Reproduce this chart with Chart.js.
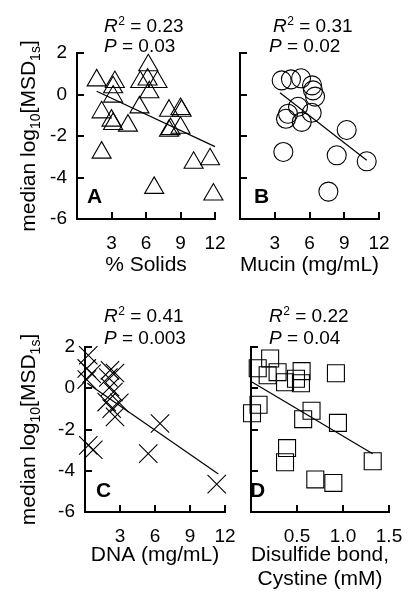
<!DOCTYPE html>
<html>
<head>
<meta charset="utf-8">
<script src="https://cdn.jsdelivr.net/npm/chart.js@4.4.0/dist/chart.umd.min.js"></script>
<style>
html, body { margin: 0; padding: 0; background: #fff; }
#wrap { position: relative; width: 419px; height: 594px; }
#wrap canvas { position: absolute; left: 0; top: 0; }
</style>
</head>
<body>
<div id="wrap">
    <canvas id="cA" width="419" height="594"></canvas>
    <canvas id="cB" width="419" height="594"></canvas>
    <canvas id="cC" width="419" height="594"></canvas>
    <canvas id="cD" width="419" height="594"></canvas>
</div>
<script>
// ---- dados ----
const solidsX = [1.71, 3.29, 3.14, 3.14, 2.14, 3.0, 3.14, 4.43, 2.14, 5.43, 6.2, 5.5, 6.14, 7.0, 6.29, 8.0, 9.0, 9.1, 8.14, 8.0, 9.0, 10.14, 11.57, 6.71, 11.86];
const solidsY = [0.68, 0.60, 0.35, -0.10, -0.86, -1.26, -1.42, -1.50, -2.80, -0.62, 1.41, 0.60, 0.72, 0.60, 0.11, -0.78, -0.70, -0.78, -1.67, -1.75, -1.60, -3.29, -3.12, -4.50, -4.82];
const solidsFitX = [1.71, 12];
const solidsFitY = [0.16, -2.51];

const mucinX = [3.60, 4.40, 5.27, 6.22, 6.30, 6.48, 5.01, 4.15, 6.19, 5.33, 9.21, 3.74, 8.35, 10.94, 7.63, 3.97];
const mucinY = [0.68, 0.73, 0.78, 0.44, 0.20, -0.10, -0.59, -0.93, -0.88, -1.32, -1.71, -2.77, -2.93, -3.22, -4.68, -1.17];
const mucinFitX = [3.45, 10.94];
const mucinFitY = [0.08, -3.17];

const dnaX = [0.28, 0.15, 0.57, 0.15, 0.28, 0.71, 2.14, 2.57, 2.0, 2.14, 2.43, 1.86, 2.94, 2.29, 2.57, 6.43, 5.42, 11.29];
const dnaY = [1.60, 0.96, 0.71, 0.42, -2.77, -2.98, 0.87, 0.74, 0.52, 0.06, -0.18, -0.67, -0.71, -0.99, -1.39, -1.71, -3.17, -4.65];
const dnaFitX = [0.2, 11.43];
const dnaFitY = [0.24, -4.16];

const cystineX = [0.208, 0.073, 0.181, 0.289, 0.37, 0.489, 0.55, 0.543, 0.923, 0.082, 0.011, 0.658, 0.567, 0.945, 0.392, 0.37, 0.699, 0.895, 1.323];
const cystineY = [1.44, 0.97, 0.63, 0.78, 0.29, 0.46, 0.83, 0.24, 0.73, -0.80, -1.21, -1.09, -1.50, -1.68, -2.90, -3.59, -4.42, -4.59, -3.54];
const cystineFitX = [0.01, 1.323];
const cystineFitY = [0.3, -3.18];

const yTicks = [-6, -4, -2, 0, 2];
const yTickLabels = ['-6', '-4', '-2', '0', '2'];
const mgTicks = [0, 3, 6, 9, 12];
const mgTickLabels = ['', '3', '6', '9', '12'];
const mMTicks = [0, 0.5, 1.0, 1.5];
const mMTickLabels = ['', '0.5', '1.0', '1.5'];

const FONT = '"Liberation Sans", Arial, Helvetica, sans-serif';

// marcas de escala para dentro + textos do painel
const panelText = {
    id: 'panelText',
    afterDraw(chart, args, opts) {
        const ctx = chart.ctx;
        const sx = chart.scales.x, sy = chart.scales.y;
        ctx.save();
        ctx.strokeStyle = '#000';
        ctx.lineWidth = 2;
        ctx.beginPath();
        sx.ticks.forEach(t => {
            if (t.value === sx.min) return;
            const px = Math.round(sx.getPixelForValue(t.value));
            ctx.moveTo(px, sx.top);
            ctx.lineTo(px, sx.top - 7);
        });
        sy.ticks.forEach(t => {
            if (t.value === sy.min) return;
            const py = Math.round(sy.getPixelForValue(t.value));
            ctx.moveTo(sy.right, py);
            ctx.lineTo(sy.right + 7, py);
        });
        ctx.stroke();

        ctx.fillStyle = '#000';
        ctx.textAlign = 'left';
        ctx.textBaseline = 'alphabetic';

        // R2 e P
        ctx.font = 'italic 19px ' + FONT;
        ctx.fillText('R', opts.rx, opts.ry1);
        let w = ctx.measureText('R').width;
        ctx.font = '12px ' + FONT;
        ctx.fillText('2', opts.rx + w + 0.5, opts.ry1 - 7);
        w += ctx.measureText('2').width + 0.5;
        ctx.font = '19px ' + FONT;
        ctx.fillText(' = ' + opts.r2, opts.rx + w, opts.ry1);

        ctx.font = 'italic 19px ' + FONT;
        ctx.fillText('P', opts.px, opts.ry2);
        w = ctx.measureText('P').width;
        ctx.font = '19px ' + FONT;
        ctx.fillText(' = ' + opts.p, opts.px + w, opts.ry2);

        // letra do painel
        ctx.font = 'bold 21px ' + FONT;
        ctx.fillText(opts.letter, opts.lx, opts.ly);

        // titulo do eixo y
        if (opts.yTitle) {
            const parts = [['median log', 21, 0], ['10', 14, 5], ['[MSD', 21, 0], ['1s', 14, 5], [']', 21, 0]];
            let total = 0;
            parts.forEach(pt => {
                ctx.font = pt[1] + 'px ' + FONT;
                pt.push(ctx.measureText(pt[0]).width);
                total += pt[3];
            });
            ctx.translate(35, (chart.chartArea.top + chart.chartArea.bottom) / 2);
            ctx.rotate(-Math.PI / 2);
            let x = -total / 2;
            parts.forEach(pt => {
                ctx.font = pt[1] + 'px ' + FONT;
                ctx.fillText(pt[0], x, pt[2]);
                x += pt[3];
            });
        }
        ctx.restore();
    }
};
Chart.register(panelText);

function pares(xs, ys) {
    return xs.map((x, i) => ({ x: x, y: ys[i] }));
}

function painel(id, p) {
    return new Chart(document.getElementById(id), {
        type: 'scatter',
        data: {
            datasets: [{
                data: pares(p.fitX, p.fitY),
                showLine: true,
                borderColor: '#000',
                borderWidth: 1.2,
                pointRadius: 0,
                clip: false
            }, {
                data: pares(p.x, p.y),
                showLine: false,
                pointStyle: p.style,
                pointRadius: p.radius,
                pointBorderColor: '#000',
                pointBackgroundColor: 'rgba(0,0,0,0)',
                pointBorderWidth: 1.1,
                clip: false
            }]
        },
        options: {
            responsive: false,
            animation: false,
            events: [],
            layout: {
                padding: {
                    left: p.area.l - p.yW,
                    top: p.area.t,
                    right: 419 - p.area.r,
                    bottom: 594 - p.area.b - p.xH
                }
            },
            plugins: {
                legend: { display: false },
                tooltip: { enabled: false },
                panelText: p.text
            },
            scales: {
                x: {
                    type: 'linear',
                    min: p.xTicks[0],
                    max: p.xTicks[p.xTicks.length - 1],
                    afterBuildTicks: s => { s.ticks = p.xTicks.map(v => ({ value: v })); },
                    afterFit: s => { s.height = p.xH; },
                    grid: { display: false, drawTicks: false },
                    border: { display: true, color: '#000', width: 2 },
                    ticks: {
                        color: '#000',
                        padding: 13,
                        maxRotation: 0,
                        font: { family: FONT, size: 19 },
                        callback: (v, i) => p.xLabels[i]
                    },
                    title: {
                        display: true,
                        text: p.xTitle,
                        color: '#000',
                        font: { family: FONT, size: 21, lineHeight: 1.1 },
                        padding: { top: 0, bottom: p.titlePad }
                    }
                },
                y: {
                    type: 'linear',
                    min: yTicks[0],
                    max: yTicks[yTicks.length - 1],
                    afterBuildTicks: s => { s.ticks = yTicks.map(v => ({ value: v })); },
                    afterFit: s => { s.width = p.yW; },
                    grid: { display: false, drawTicks: false },
                    border: { display: true, color: '#000', width: 2 },
                    ticks: {
                        display: p.yLabels,
                        color: '#000',
                        padding: 10,
                        font: { family: FONT, size: 19 },
                        callback: (v, i) => yTickLabels[i]
                    }
                }
            }
        }
    });
}

painel('cA', {
    x: solidsX, y: solidsY, fitX: solidsFitX, fitY: solidsFitY,
    style: 'triangle', radius: 11,
    area: { l: 77, t: 53, r: 215, b: 219 }, yW: 60, xH: 70, yLabels: true,
    xTicks: mgTicks, xLabels: mgTickLabels, xTitle: '% Solids', titlePad: 12,
    text: { r2: '0.23', p: '0.03', rx: 104, px: 104, ry1: 31.5, ry2: 52, letter: 'A', lx: 87, ly: 203, yTitle: true }
});

painel('cB', {
    x: mucinX, y: mucinY, fitX: mucinFitX, fitY: mucinFitY,
    style: 'circle', radius: 9.5,
    area: { l: 240, t: 53, r: 379, b: 219 }, yW: 10, xH: 70, yLabels: false,
    xTicks: mgTicks, xLabels: mgTickLabels, xTitle: 'Mucin (mg/mL)', titlePad: 12,
    text: { r2: '0.31', p: '0.02', rx: 273, px: 269, ry1: 31.5, ry2: 52, letter: 'B', lx: 254, ly: 203, yTitle: false }
});

painel('cC', {
    x: dnaX, y: dnaY, fitX: dnaFitX, fitY: dnaFitY,
    style: 'crossRot', radius: 13,
    area: { l: 85, t: 347, r: 225, b: 512 }, yW: 60, xH: 82, yLabels: true,
    xTicks: mgTicks, xLabels: mgTickLabels, xTitle: 'DNA (mg/mL)', titlePad: 27.5,
    text: { r2: '0.41', p: '0.003', rx: 104, px: 104, ry1: 322, ry2: 343.5, letter: 'C', lx: 96, ly: 497, yTitle: true }
});

painel('cD', {
    x: cystineX, y: cystineY, fitX: cystineFitX, fitY: cystineFitY,
    style: 'rect', radius: 12,
    area: { l: 251, t: 347, r: 389, b: 512 }, yW: 10, xH: 82, yLabels: false,
    xTicks: mMTicks, xLabels: mMTickLabels, xTitle: ['Disulfide bond,', 'Cystine (mM)'], titlePad: 3.7,
    text: { r2: '0.22', p: '0.04', rx: 269, px: 269, ry1: 322, ry2: 343.5, letter: 'D', lx: 250, ly: 497, yTitle: false }
});
</script>
</body>
</html>
